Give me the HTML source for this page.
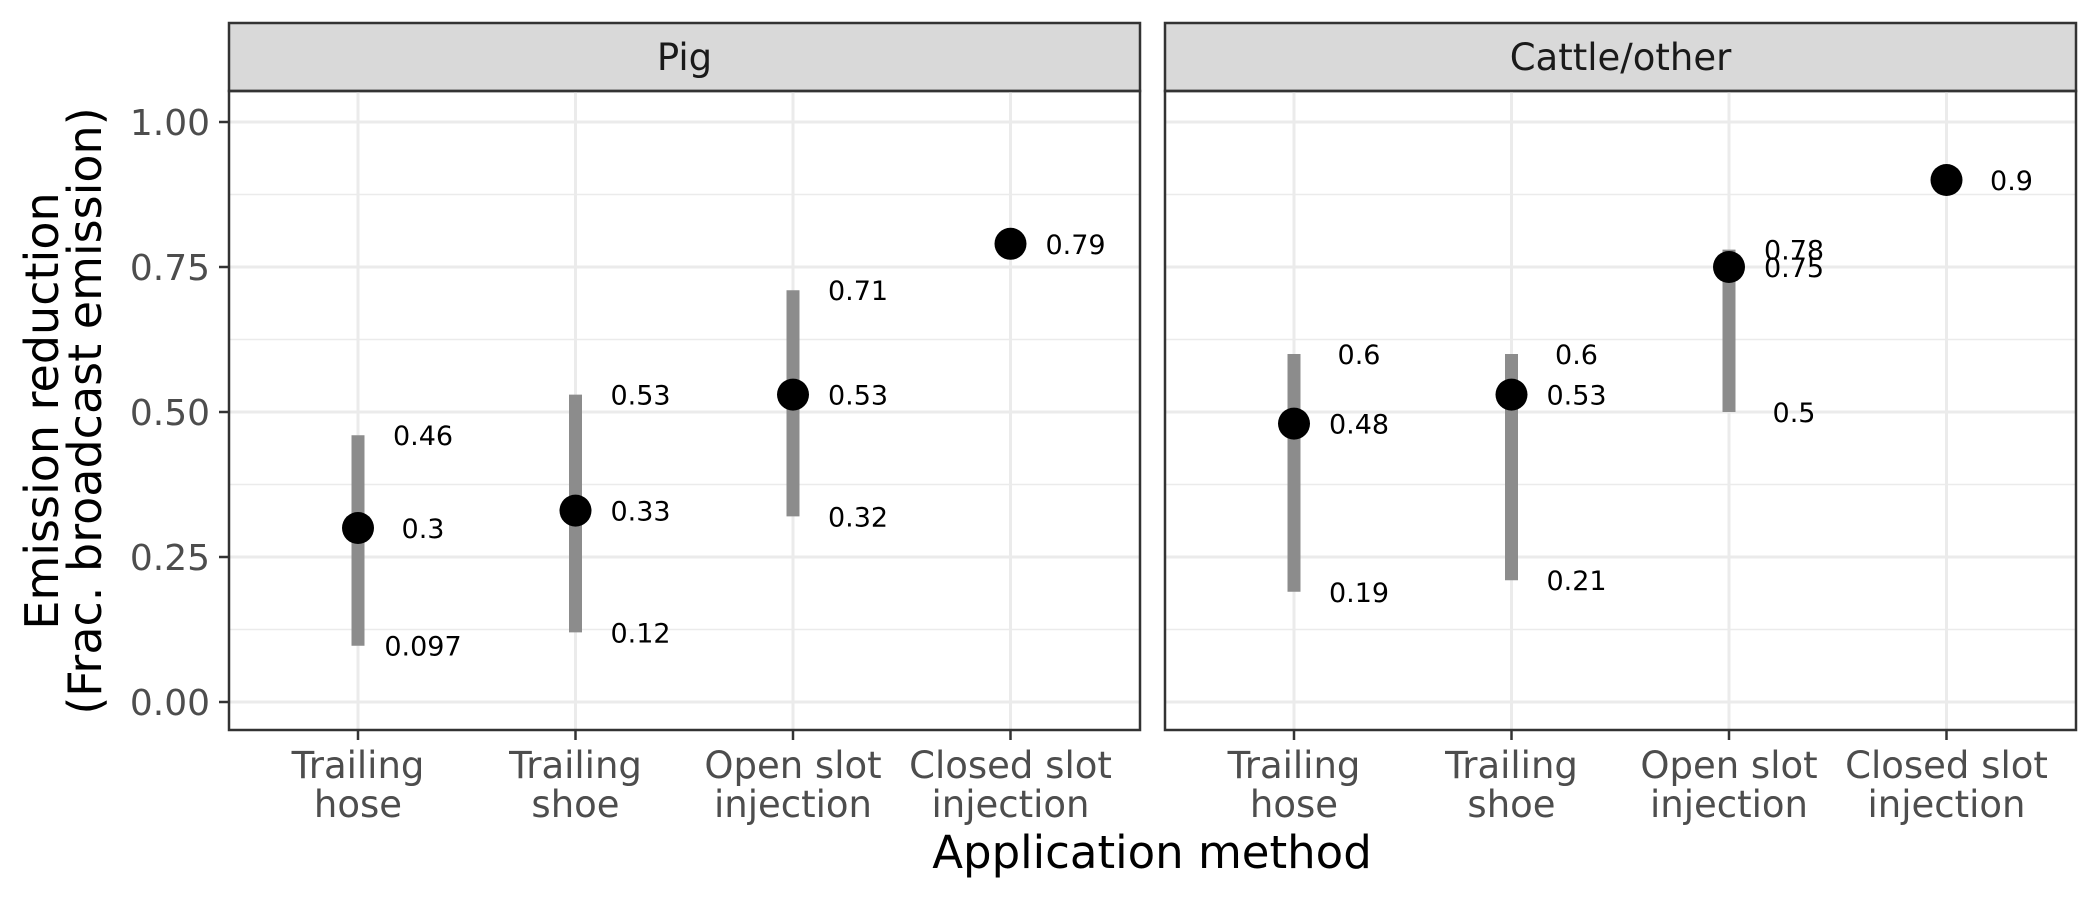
<!DOCTYPE html>
<html><head><meta charset="utf-8"><style>
body{margin:0;background:#fff}
svg text{font-family:"DejaVu Sans","Liberation Sans",sans-serif}
</style></head><body>
<svg id="chart" width="2100" height="900" xmlns="http://www.w3.org/2000/svg"></svg>
<script>
const categories=["Trailing hose","Trailing shoe","Open slot injection","Closed slot injection"];
const catLine1=["Trailing","Trailing","Open slot","Closed slot"];
const catLine2=["hose","shoe","injection","injection"];
const panels=["Pig","Cattle/other"];
const pigMid=[0.3,0.33,0.53,0.79];
const pigLo=[0.097,0.12,0.32,null];
const pigHi=[0.46,0.53,0.71,null];
const cattleMid=[0.48,0.53,0.75,0.9];
const cattleLo=[0.19,0.21,0.5,null];
const cattleHi=[0.6,0.6,0.78,null];
const yTicks=[0,0.25,0.5,0.75,1.0];
const yTickLabels=["0.00","0.25","0.50","0.75","1.00"];
const yMinor=[0.125,0.375,0.625,0.875];

const NS="http://www.w3.org/2000/svg";
const svg=document.getElementById('chart');
function el(t,a,p){const e=document.createElementNS(NS,t);for(const k in a)e.setAttribute(k,a[k]);(p||svg).appendChild(e);return e;}
const yScale=v=>702-v*580;
const panelX=[229,1165],panelW=911,plotTop=91,plotBottom=730;
const xScale=(p,i)=>panelX[p]+129+i*217.5;
const data=[[pigMid,pigLo,pigHi],[cattleMid,cattleLo,cattleHi]];
function fmt(v){return String(v);}

panels.forEach((name,p)=>{
  const g=el('g',{});
  
  
  const x0=panelX[p];
  const strip=el('rect',{x:x0,y:23,width:panelW,height:68,fill:'#d9d9d9',stroke:'#333','stroke-width':2.5},g);
  
  
  const st=el('text',{x:x0+panelW/2,y:70,'text-anchor':'middle','font-size':37,fill:'#1a1a1a'},g);st.textContent=name;
  
  
  yMinor.forEach(v=>el('line',{x1:x0,x2:x0+panelW,y1:yScale(v),y2:yScale(v),stroke:'#ebebeb','stroke-width':1.5},g));
  yTicks.forEach(v=>el('line',{x1:x0,x2:x0+panelW,y1:yScale(v),y2:yScale(v),stroke:'#ebebeb','stroke-width':3},g));
  categories.forEach((c,i)=>el('line',{x1:xScale(p,i),x2:xScale(p,i),y1:plotTop,y2:plotBottom,stroke:'#ebebeb','stroke-width':3},g));
  const [mid,lo,hi]=data[p];
  categories.forEach((c,i)=>{
    const x=xScale(p,i);
    if(lo[i]!=null){
      const b=el('line',{x1:x,x2:x,y1:yScale(lo[i]),y2:yScale(hi[i]),stroke:'#8c8c8c','stroke-width':13},g);
      
      
      [lo[i],hi[i]].forEach(v=>{const t=el('text',{x:x+65,y:yScale(v)+10,'text-anchor':'middle','font-size':27,fill:'#000'},g);t.textContent=fmt(v);
        
        });
    }
    const pt=el('circle',{cx:x,cy:yScale(mid[i]),r:16,fill:'#000'},g);
    
    
    const t=el('text',{x:x+65,y:yScale(mid[i])+10,'text-anchor':'middle','font-size':27,fill:'#000'},g);t.textContent=fmt(mid[i]);
    
    
    el('line',{x1:x,x2:x,y1:plotBottom,y2:plotBottom+10,stroke:'#333','stroke-width':2.5},g);
    const l1=el('text',{x:x,y:778,'text-anchor':'middle','font-size':37,fill:'#4d4d4d'},g);l1.textContent=catLine1[i];
    
    
    const l2=el('text',{x:x,y:817,'text-anchor':'middle','font-size':37,fill:'#4d4d4d'},g);l2.textContent=catLine2[i];
    
    
  });
  const fr=el('rect',{x:x0,y:plotTop,width:panelW,height:plotBottom-plotTop,fill:'none',stroke:'#333','stroke-width':2.5},g);
  
  
});
yTicks.forEach((v,i)=>{
  el('line',{x1:219,x2:229,y1:yScale(v),y2:yScale(v),stroke:'#333','stroke-width':2.5});
  const t=el('text',{x:210,y:yScale(v)+13,'text-anchor':'end','font-size':36,fill:'#4d4d4d'});t.textContent=yTickLabels[i];
  
  
});
const yt=el('text',{transform:'translate(58,411) rotate(-90)','text-anchor':'middle','font-size':46,fill:'#000'});


yt.textContent='Emission reduction';
const yt2=el('text',{transform:'translate(101,411) rotate(-90)','text-anchor':'middle','font-size':46,fill:'#000'});


yt2.textContent='(Frac. broadcast emission)';
const xt=el('text',{x:1152,y:868,'text-anchor':'middle','font-size':45,fill:'#000'});


xt.textContent='Application method';
</script>
</body></html>
